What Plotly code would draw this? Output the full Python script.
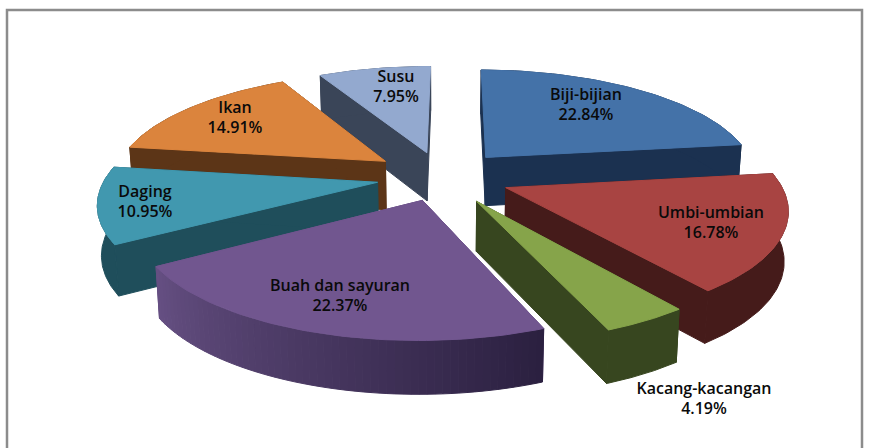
import numpy as np
import plotly.graph_objects as go

categories = ["Biji-bijian", "Umbi-umbian", "Kacang-kacangan", "Buah dan sayuran", "Daging", "Ikan", "Susu"]
values = [22.84, 16.78, 4.19, 22.37, 10.95, 14.91, 7.95]
top_colors = ["#4472A8", "#A84442", "#86A44A", "#71568F", "#4198AF", "#DB843D", "#93A9CF"]
wall_left = ["#1B3150", "#451B1A", "#37461F", "#654F82", "#1F4E5B", "#5C3517", "#3A4558"]
wall_right = ["#1B3150", "#451B1A", "#37461F", "#2B2040", "#1F4E5B", "#5C3517", "#3A4558"]
explode = [0.25, 0.25, 0.25, 0.22, 0.24, 0.26, 0.24]
label_x = [586, 711, 704, 340, 145, 235, 396]
label_y = [106, 224, 400, 297, 203, 119, 88]
ROTATION = 0.4

CX, CY, D = 442.0, 177.0, 6.0
A, F = 108.0 * D, 272.0 * D


def project(x, y, drop=0.0):
    k = 1.0 - 0.012 * (drop > 0)
    sx = CX + k * F * x / (D + y)
    sy = CY - A * y / (D + y) + drop * (49 - 4 * y)
    return sx, sy


def hex_mix(c1, c2, t):
    a = [int(c1[i:i + 2], 16) for i in (1, 3, 5)]
    b = [int(c2[i:i + 2], 16) for i in (1, 3, 5)]
    return "rgb(%d,%d,%d)" % tuple(round(a[i] + (b[i] - a[i]) * t) for i in range(3))


def poly(xs, ys, color):
    return go.Scatter(x=list(xs) + [xs[0]], y=list(ys) + [ys[0]], mode="lines", fill="toself",
                      fillcolor=color, line=dict(color=color, width=1), hoverinfo="skip", showlegend=False)


fig = go.Figure()
edges = np.cumsum([0] + values) / sum(values) * 2 * np.pi + np.radians(ROTATION)
mids = (edges[:-1] + edges[1:]) / 2
order = np.argsort(-np.cos(mids))  # back to front

for i in order:
    a0, a1 = edges[i], edges[i + 1]
    ox, oy = explode[i] * np.sin(mids[i]), explode[i] * np.cos(mids[i])
    th = np.linspace(a0, a1, 60)
    rx, ry = ox + np.sin(th), oy + np.cos(th)
    # radial walls
    for ex, ey in ((rx[0], ry[0]), (rx[-1], ry[-1])):
        ax, ay = project(ox, oy)
        bx, by = project(ex, ey)
        cx, cy = project(ex, ey, 1)
        dx, dy = project(ox, oy, 1)
        fig.add_trace(poly([ax, bx, cx, dx], [ay, by, cy, dy], wall_left[i]))
    # rim wall, split only where it shades from left to right
    if wall_left[i] == wall_right[i]:
        x1, y1 = project(rx, ry)
        x2, y2 = project(rx[::-1], ry[::-1], 1)
        fig.add_trace(poly(np.r_[x1, x2], np.r_[y1, y2], wall_left[i]))
    else:
        for j in range(len(th) - 1):
            x1, y1 = project(rx[j], ry[j])
            x2, y2 = project(rx[j + 1], ry[j + 1])
            x3, y3 = project(rx[j + 1], ry[j + 1], 1)
            x4, y4 = project(rx[j], ry[j], 1)
            t = 1 - j / (len(th) - 2)
            fig.add_trace(poly([x1, x2, x3, x4], [y1, y2, y3, y4], hex_mix(wall_left[i], wall_right[i], t)))
    # top face
    tx, ty = project(np.r_[ox, rx], np.r_[oy, ry])
    fig.add_trace(poly(list(tx), list(ty), top_colors[i]))

texts = [f"{c}<br>{v:.2f}%" for c, v in zip(categories, values)]
fig.add_trace(go.Scatter(x=label_x, y=label_y, mode="text", text=texts, hoverinfo="skip", showlegend=False,
                         textfont=dict(family="Open Sans", size=16, color="#0A0A0A", weight=600)))

fig.add_shape(type="rect", x0=7, y0=10, x1=862, y1=470, line=dict(color="#8C8C8C", width=2.5), fillcolor="rgba(0,0,0,0)")
fig.update_xaxes(range=[0, 869], visible=False, fixedrange=True)
fig.update_yaxes(range=[448, 0], visible=False, fixedrange=True)
fig.update_layout(width=869, height=448, margin=dict(l=0, r=0, t=0, b=0), paper_bgcolor="white",
                  plot_bgcolor="white", showlegend=False)
fig.write_html("out.html", config=dict(displayModeBar=False),
               post_script="document.body.style.margin='0';document.body.style.overflow='hidden';")
